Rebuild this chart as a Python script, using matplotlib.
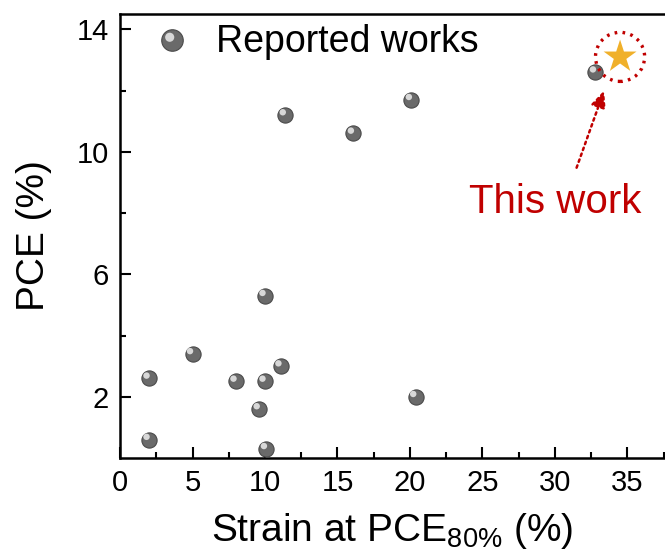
import matplotlib
matplotlib.use('Agg')
import matplotlib.pyplot as plt
from matplotlib.ticker import MultipleLocator, FixedLocator
from matplotlib.transforms import offset_copy

plt.rcParams['font.family'] = ['Liberation Sans', 'DejaVu Sans']
plt.rcParams['mathtext.fontset'] = 'custom'
plt.rcParams['mathtext.rm'] = 'Liberation Sans'
plt.rcParams['mathtext.it'] = 'Liberation Sans'

# reported works: strain at PCE80% (%) and PCE (%)
strain = [2, 2, 5, 8, 10, 11.1, 9.6, 10.1, 10, 11.4, 16.1, 20.1, 20.4, 32.8]
pce = [2.6, 0.6, 3.4, 2.5, 2.5, 3.0, 1.6, 0.3, 5.3, 11.2, 10.6, 11.7, 2.0, 12.6]

# this work
this_strain = [34.5]
this_pce = [13.1]

AXIS_FONT_SIZE = 28
TICK_FONT_SIZE = 21
RED = '#C00000'


def sphere(ax, x, y, size, **kw):
    # shaded ball look: dark body + lighter highlight up-left
    ax.scatter(x, y, s=size, color='#6a6a6a', edgecolors='#4a4a4a',
               linewidths=0.8, zorder=3, **kw)
    hl = offset_copy(ax.transData, fig=ax.figure, x=-1.8, y=2.0,
                     units='points')
    ax.scatter(x, y, s=size * 0.18, color='#d8d8d8', edgecolors='none',
               transform=hl, zorder=4)


fig = plt.figure(figsize=(6.65, 5.56), dpi=100)
ax = fig.add_axes([0.1805, 0.1763, 0.8195, 0.7985])

sphere(ax, strain, pce, 120)

# legend entry drawn by hand to keep the sphere look
sphere(ax, [3.6], [13.65], 240)
ax.text(6.6, 13.6, 'Reported works', fontsize=27, va='center', ha='left')

ax.scatter(this_strain, this_pce, marker='*', s=620, color='#F0B02A',
           edgecolors='none', zorder=5)
ax.scatter(this_strain, this_pce, marker='o', s=1250, facecolors='none',
           edgecolors=RED, linewidths=2.4, linestyles=(0, (0.8, 1.6)),
           zorder=5)

ax.annotate('', xy=(33.4, 12.0), xytext=(31.5, 9.48),
            arrowprops=dict(arrowstyle='-|>,head_length=1.0,head_width=0.45',
                            color=RED, lw=1.8, linestyle=(0, (1, 1.5)),
                            shrinkA=0, shrinkB=0))
ax.text(30.0, 8.35, 'This work', color=RED, fontsize=29,
        ha='center', va='center')

ax.set_xlim(0, 37.6)
ax.set_ylim(0, 14.5)
ax.xaxis.set_major_locator(MultipleLocator(5))
ax.xaxis.set_minor_locator(MultipleLocator(2.5))
ax.yaxis.set_major_locator(FixedLocator([2, 6, 10, 14]))
ax.yaxis.set_minor_locator(FixedLocator([4, 8, 12]))
ax.tick_params(which='both', direction='in', width=1.5,
               labelsize=TICK_FONT_SIZE, top=False, right=False)
ax.tick_params(which='major', length=8, pad=8)
ax.tick_params(which='minor', length=4)
for side in ['left', 'bottom', 'top']:
    ax.spines[side].set_linewidth(1.8)
ax.spines['right'].set_visible(False)

ax.set_xlabel('Strain at PCE$_{80\\%}$ (%)', fontsize=AXIS_FONT_SIZE,
              labelpad=10)
ax.set_ylabel('PCE (%)', fontsize=AXIS_FONT_SIZE, labelpad=18)

fig.savefig('out.png', dpi=100)
